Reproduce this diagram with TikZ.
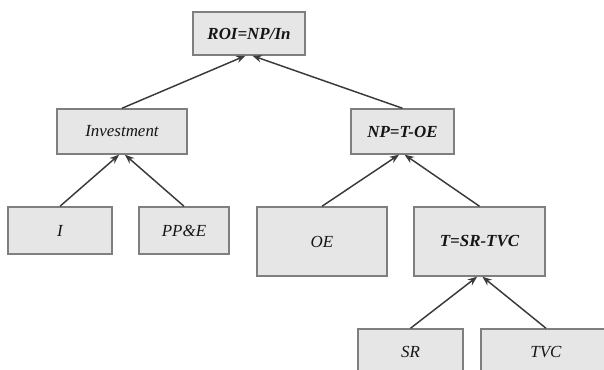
\documentclass[tikz,border=0pt]{standalone}
\usepackage{fontspec}
\setmainfont{Liberation Serif}
\usetikzlibrary{arrows.meta}
\definecolor{boxfill}{HTML}{E6E6E6}
\definecolor{boxdraw}{HTML}{7F7F7F}
\definecolor{linecol}{HTML}{3A3A3A}
\definecolor{txt}{HTML}{151515}
\begin{document}
\begin{tikzpicture}[x=0.75pt,y=-0.75pt,
  box/.style={draw=boxdraw, fill=boxfill, line width=1.1pt, inner sep=0pt,
    text=txt, font=\fontsize{12.7}{15}\selectfont\itshape},
  bbox/.style={box, font=\fontsize{12.7}{15}\selectfont\itshape\bfseries},
  conn/.style={draw=linecol, line width=1.1pt, -{Stealth[length=7pt,width=5.5pt]}}]
\useasboundingbox (0,0) rectangle (604,370);
\clip (0,0) rectangle (604,370);
\fill[white] (0,0) rectangle (604,370);
\node[bbox, minimum width=84pt, minimum height=32.25pt] (roi) at (249,33.5) {ROI=NP/In};
\node[box, minimum width=97.5pt, minimum height=33.75pt] (inv) at (122,131.5) {Investment};
\node[box, minimum width=78pt, minimum height=35.25pt] (i) at (60,230.5) {I};
\node[box, minimum width=67.5pt, minimum height=35.25pt] (ppe) at (184,230.5) {PP\&E};
\node[bbox, minimum width=77.25pt, minimum height=33.75pt] (np) at (402.5,131.5) {NP=T-OE};
\node[box, minimum width=97.5pt, minimum height=51.75pt] (oe) at (322,241.5) {OE};
\node[bbox, minimum width=98.25pt, minimum height=51.75pt] (t) at (479.5,241.5) {T=SR-TVC};
\node[box, minimum width=78.75pt, minimum height=34.5pt] (sr) at (410.5,352) {SR};
\node[box, minimum width=97.5pt, minimum height=34.5pt] (tvc) at (546,352) {TVC};
\draw[conn] (inv.north) -- ([xshift=-2.6pt]roi.south);
\draw[conn] (np.north) -- ([xshift=2.6pt]roi.south);
\draw[conn] (i.north) -- ([xshift=-2.2pt]inv.south);
\draw[conn] (ppe.north) -- ([xshift=2.2pt]inv.south);
\draw[conn] (oe.north) -- ([xshift=-2.6pt]np.south);
\draw[conn] (t.north) -- ([xshift=1.6pt]np.south);
\draw[conn] (sr.north) -- ([xshift=-1.8pt]t.south);
\draw[conn] (tvc.north) -- ([xshift=2.2pt]t.south);
\end{tikzpicture}
\end{document}
